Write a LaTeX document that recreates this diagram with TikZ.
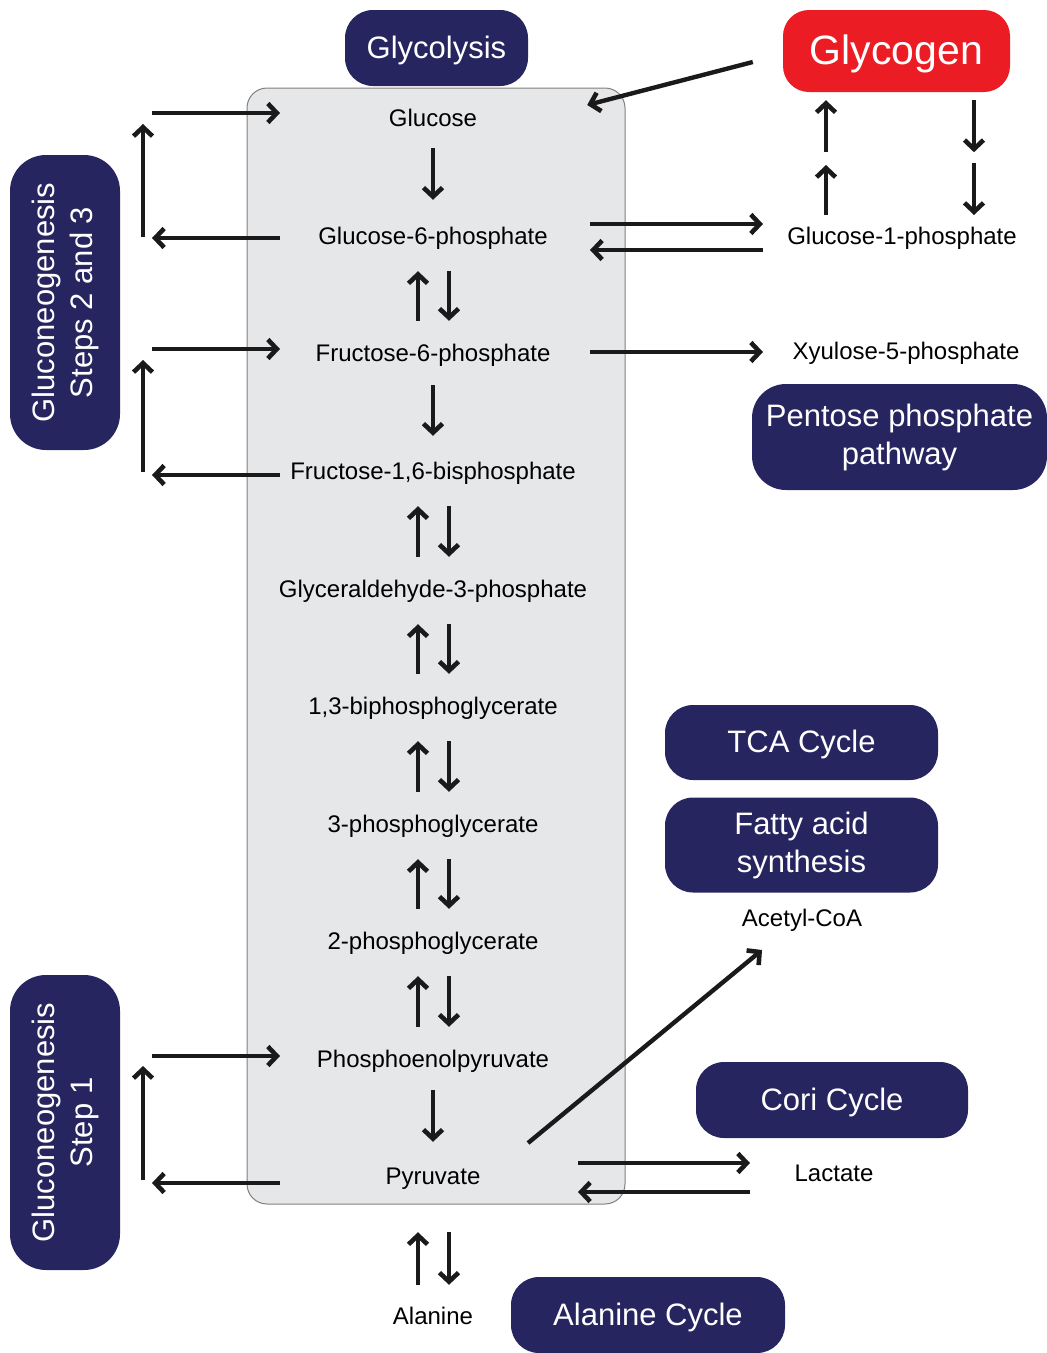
\documentclass[tikz,border=0pt]{standalone}
\usepackage{fontspec}
\setmainfont{Liberation Sans}
\usetikzlibrary{arrows.meta,calc}
\definecolor{navy}{RGB}{39,37,96}
\definecolor{gred}{RGB}{236,28,36}
\definecolor{boxgray}{RGB}{230,231,233}
\definecolor{edgegray}{RGB}{128,128,128}
\definecolor{ink}{RGB}{26,26,26}
\begin{document}
\begin{tikzpicture}[x=1pt,y=-1pt,
  arr/.style={draw=ink,line width=4.4pt,-{Straight Barb[length=9pt,width=19pt,line width=4.6pt]}},
  lbl/.style={inner sep=0pt,text height=17pt,text depth=5pt,font=\fontsize{24}{28}\selectfont},
  navybox/.style={fill=navy,text=white,rounded corners=28pt,inner sep=0pt,align=center,
    font=\fontsize{31}{38}\selectfont},
  oneline/.style={text height=22pt,text depth=2pt},
  graybox/.style={fill=boxgray,draw=edgegray,line width=1pt,rounded corners=20pt,inner sep=0pt}
]
\useasboundingbox (0,0) rectangle (1047,1353);
% main gray panel
\node[graybox,minimum width=378pt,minimum height=1116pt] (panel) at (436,646) {};
% boxes
\node[navybox,oneline,minimum width=183pt,minimum height=76pt] (glycolysis) at (436.5,48) {Glycolysis};
\node[navybox,fill=gred,rounded corners=26pt,minimum width=227pt,minimum height=82pt,font=\fontsize{41}{48}\selectfont,text height=30pt,text depth=3pt] (glycogen) at (896.5,51) {Glycogen};
\node[navybox,rounded corners=36pt,rotate=90,minimum width=295pt,minimum height=110pt] (gng23) at (65,302.5) {Gluconeogenesis\\Steps 2 and 3};
\node[navybox,rounded corners=36pt,rotate=90,minimum width=295pt,minimum height=110pt] (gng1) at (65,1122.5) {Gluconeogenesis\\Step 1};
\node[navybox,rounded corners=34pt,minimum width=295pt,minimum height=106pt] (ppp) at (899.5,437) {Pentose phosphate\\pathway};
\node[navybox,oneline,minimum width=273pt,minimum height=75pt] (tca) at (801.5,742.5) {TCA Cycle};
\node[navybox,minimum width=273pt,minimum height=95pt] (fas) at (801.5,845) {Fatty acid\\synthesis};
\node[navybox,oneline,minimum width=272pt,minimum height=76pt] (cori) at (832,1100) {Cori Cycle};
\node[navybox,oneline,minimum width=274pt,minimum height=76pt] (alacyc) at (648,1315) {Alanine Cycle};
% labels
\node[lbl] (glc) at (433,120) {Glucose};
\node[lbl] (g6p) at (433,238) {Glucose-6-phosphate};
\node[lbl] (f6p) at (433,355) {Fructose-6-phosphate};
\node[lbl] (f16) at (433,473) {Fructose-1,6-bisphosphate};
\node[lbl] (g3p) at (433,591) {Glyceraldehyde-3-phosphate};
\node[lbl] (bpg) at (433,708) {1,3-biphosphoglycerate};
\node[lbl] (pg3) at (433,826) {3-phosphoglycerate};
\node[lbl] (pg2) at (433,943) {2-phosphoglycerate};
\node[lbl] (pep) at (433,1061) {Phosphoenolpyruvate};
\node[lbl] (pyr) at (433,1178) {Pyruvate};
\node[lbl] (ala) at (433,1318) {Alanine};
\node[lbl] (g1p) at (902,238) {Glucose-1-phosphate};
\node[lbl] (x5p) at (906,353) {Xyulose-5-phosphate};
\node[lbl] (acoa) at (802,920) {Acetyl-CoA};
\node[lbl] (lac) at (834,1175) {Lactate};
% column coordinates
\coordinate (xinL) at (280,0);
\coordinate (xoutL) at (152,0);
\coordinate (xvL) at (143,0);
\coordinate (xR1) at (590,0);
\coordinate (xR2) at (763,0);
\coordinate (xGu) at (826,0);
\coordinate (xGd) at (974,0);
\coordinate (xLa) at (578,0);
\coordinate (xLb) at (750,0);
% central single arrows
\draw[arr,shorten <=17pt,shorten >=27pt] (glc.south) -- (g6p.north);
\draw[arr,shorten <=19pt,shorten >=26pt] (f6p.south) -- (f16.north);
\draw[arr,shorten <=18pt,shorten >=25pt] (pep.south) -- (pyr.north);
% central pairs
\foreach \a/\b in {g6p/f6p,f16/g3p,g3p/bpg,bpg/pg3,pg3/pg2,pg2/pep}{
  \draw[arr,shorten <=23pt,shorten >=22pt] ($(\b.north)+(-15,0)$) -- ($(\a.south)+(-15,0)$);
  \draw[arr,shorten <=22pt,shorten >=23pt] ($(\a.south)+(16,0)$) -- ($(\b.north)+(16,0)$);
}
\draw[arr,shorten <=22pt,shorten >=43pt] ($(ala.north)+(-15,0)$) -- ($(pyr.south)+(-15,0)$);
\draw[arr,shorten <=43pt,shorten >=22pt] ($(pyr.south)+(16,0)$) -- ($(ala.north)+(16,0)$);
% left bypasses
\draw[arr] ($(glc -| xoutL)+(0,-7)$) -- ($(glc -| xinL)+(0,-7)$);
\draw[arr] ($(g6p -| xvL)+(0,-1)$) -- ($(glc -| xvL)+(0,4)$);
\draw[arr] ($(g6p -| xinL)+(0,0)$) -- ($(g6p -| xoutL)+(0,0)$);
\draw[arr] ($(f6p -| xoutL)+(0,-6)$) -- ($(f6p -| xinL)+(0,-6)$);
\draw[arr] ($(f16 -| xvL)+(0,-1)$) -- ($(f6p -| xvL)+(0,5)$);
\draw[arr] ($(f16 -| xinL)+(0,2)$) -- ($(f16 -| xoutL)+(0,2)$);
\draw[arr] ($(pep -| xoutL)+(0,-5)$) -- ($(pep -| xinL)+(0,-5)$);
\draw[arr] ($(pyr -| xvL)+(0,2)$) -- ($(pep -| xvL)+(0,5)$);
\draw[arr] ($(pyr -| xinL)+(0,5)$) -- ($(pyr -| xoutL)+(0,5)$);
% glycogen branch
\draw[arr] ($(glycogen.west)+(-30,11)$) -- ($(glc.east)+(110,-15)$);
\draw[arr] ($(g6p -| xR1)+(0,-14)$) -- ($(g1p -| xR2)+(0,-14)$);
\draw[arr] ($(g1p -| xR2)+(0,12)$) -- ($(g6p -| xR1)+(0,12)$);
\draw[arr] ($(g1p -| xGu)+(0,-23)$) -- ($(g1p -| xGu)+(0,-73)$);
\draw[arr] ($(glycogen.south -| xGu)+(0,60)$) -- ($(glycogen.south -| xGu)+(0,8)$);
\draw[arr] ($(glycogen.south -| xGd)+(0,8)$) -- ($(glycogen.south -| xGd)+(0,60)$);
\draw[arr] ($(g1p -| xGd)+(0,-75)$) -- ($(g1p -| xGd)+(0,-23)$);
% pentose phosphate
\draw[arr] ($(f6p -| xR1)+(0,-3)$) -- ($(x5p -| xR2)+(0,-1)$);
% pyruvate fates
\draw[arr] ($(pyr)+(95,-35)$) -- ($(acoa)+(-40,30)$);
\draw[arr] ($(pyr -| xLa)+(0,-15)$) -- ($(lac -| xLb)+(0,-12)$);
\draw[arr] ($(lac -| xLb)+(0,17)$) -- ($(pyr -| xLa)+(0,14)$);
\end{tikzpicture}
\end{document}
